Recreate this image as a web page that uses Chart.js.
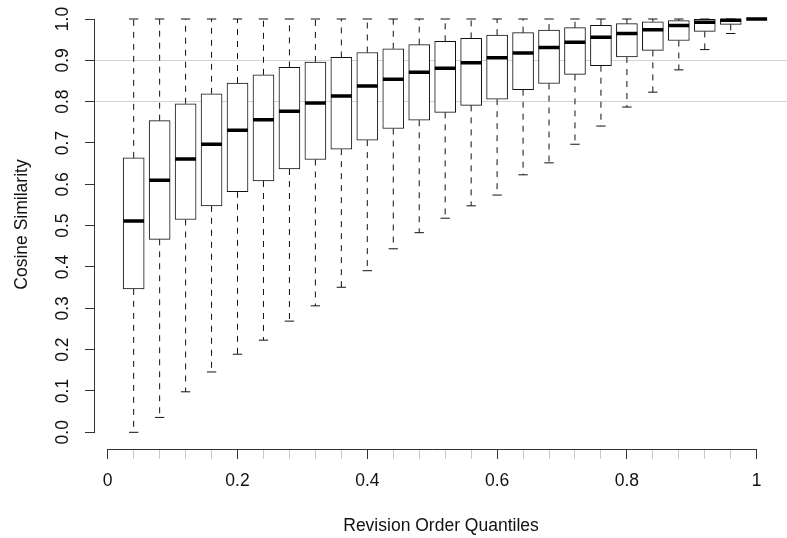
<!DOCTYPE html>
<html>
<head>
<meta charset="utf-8">
<script src="https://cdn.jsdelivr.net/npm/chart.js@4.4.1/dist/chart.umd.min.js"></script>
<style>
  html, body { margin: 0; padding: 0; background: #fff; }
  #wrap { position: relative; width: 787px; height: 538px; }
</style>
</head>
<body>
<div id="wrap"><canvas id="boxChart"></canvas></div>
<script>
// ── Data ──
const quantiles = [0.04, 0.08, 0.12, 0.16, 0.20, 0.24, 0.28, 0.32, 0.36, 0.40, 0.44, 0.48, 0.52,
                   0.56, 0.60, 0.64, 0.68, 0.72, 0.76, 0.80, 0.84, 0.88, 0.92, 0.96, 1.00];
const whiskerLow = [0.000, 0.036, 0.098, 0.146, 0.189, 0.223, 0.269, 0.306, 0.351, 0.391, 0.444, 0.483, 0.518,
                    0.548, 0.574, 0.623, 0.652, 0.697, 0.741, 0.787, 0.823, 0.877, 0.926, 0.965, 0.999];
const lowerQuartile = [0.347, 0.467, 0.515, 0.548, 0.582, 0.608, 0.637, 0.660, 0.685, 0.707, 0.735, 0.755, 0.774,
                       0.791, 0.806, 0.829, 0.844, 0.866, 0.887, 0.908, 0.924, 0.948, 0.970, 0.987, 0.999];
const medians = [0.511, 0.610, 0.661, 0.697, 0.731, 0.756, 0.777, 0.797, 0.814, 0.838, 0.854, 0.871, 0.881,
                 0.894, 0.906, 0.918, 0.931, 0.944, 0.956, 0.965, 0.974, 0.984, 0.992, 0.997, 1.000];
const upperQuartile = [0.664, 0.754, 0.795, 0.819, 0.845, 0.865, 0.883, 0.896, 0.907, 0.919, 0.928, 0.938, 0.946,
                       0.953, 0.961, 0.967, 0.973, 0.979, 0.985, 0.989, 0.993, 0.996, 0.999, 1.000, 1.000];
const whiskerHigh = [1, 1, 1, 1, 1, 1, 1, 1, 1, 1, 1, 1, 1, 1, 1, 1, 1, 1, 1, 1, 1, 1, 1, 1, 1];

const refLines = [0.8, 0.9];
const xMajorTicks = [0, 0.2, 0.4, 0.6, 0.8, 1];
const xTickLabels = ['0', '0.2', '0.4', '0.6', '0.8', '1'];
const yTicks = [0, 0.1, 0.2, 0.3, 0.4, 0.5, 0.6, 0.7, 0.8, 0.9, 1.0];
const yTickLabels = ['0.0', '0.1', '0.2', '0.3', '0.4', '0.5', '0.6', '0.7', '0.8', '0.9', '1.0'];

// ── Geometry (x units) ──
const BOX_HALF = 0.016;
const CAP_HALF = BOX_HALF * 0.45;

const near = (a, b) => Math.abs(a - b) < 1e-9;
const tickVal = c => (c && c.tick ? c.tick.value : NaN);

// turn [[p0, p1], ...] into one line dataset with gaps between segments
function segments(pairs) {
  const pts = [];
  pairs.forEach(([a, b]) => pts.push(a, b, { x: b.x, y: null }));
  return pts;
}

const whiskerPts = segments(quantiles.flatMap((x, i) => [
  [{ x, y: upperQuartile[i] }, { x, y: whiskerHigh[i] }],
  [{ x, y: lowerQuartile[i] }, { x, y: whiskerLow[i] }]
]));
const capPts = segments(quantiles.flatMap((x, i) => [
  [{ x: x - CAP_HALF, y: whiskerHigh[i] }, { x: x + CAP_HALF, y: whiskerHigh[i] }],
  [{ x: x - CAP_HALF, y: whiskerLow[i] }, { x: x + CAP_HALF, y: whiskerLow[i] }]
]));
const medianPts = segments(quantiles.map((x, i) => [
  { x: x - BOX_HALF, y: medians[i] }, { x: x + BOX_HALF, y: medians[i] }
]));

// axis lines only over the tick range, R style
const axisLines = {
  id: 'axisLines',
  afterDraw(chart) {
    const { ctx, scales: { x, y } } = chart;
    ctx.save();
    ctx.strokeStyle = '#333';
    ctx.lineWidth = 1;
    ctx.beginPath();
    const ax = Math.round(y.right) - 0.5;
    ctx.moveTo(ax, y.getPixelForValue(yTicks[0]));
    ctx.lineTo(ax, y.getPixelForValue(yTicks[yTicks.length - 1]));
    const ay = Math.round(x.top) + 0.5;
    ctx.moveTo(x.getPixelForValue(xMajorTicks[0]), ay);
    ctx.lineTo(x.getPixelForValue(xMajorTicks[xMajorTicks.length - 1]), ay);
    ctx.stroke();
    ctx.restore();
  }
};

Chart.defaults.font.family = '"Liberation Sans", Arial, sans-serif';
Chart.defaults.font.size = 17.5;
Chart.defaults.color = '#111';

new Chart(document.getElementById('boxChart'), {
  data: {
    datasets: [
      {
        type: 'line', order: 4, data: whiskerPts,
        borderColor: '#111', borderWidth: 1, borderDash: [6, 6],
        pointRadius: 0, spanGaps: false, fill: false
      },
      {
        type: 'line', order: 3, data: capPts,
        borderColor: '#111', borderWidth: 1,
        pointRadius: 0, spanGaps: false, fill: false
      },
      {
        type: 'bar', order: 2,
        data: quantiles.map((x, i) => ({ x, y: [lowerQuartile[i], upperQuartile[i]] })),
        backgroundColor: '#fff', borderColor: '#111', borderWidth: 1,
        borderSkipped: false, barThickness: 21
      },
      {
        type: 'line', order: 1, data: medianPts,
        borderColor: '#000', borderWidth: 3.5, borderCapStyle: 'butt',
        pointRadius: 0, spanGaps: false, fill: false
      }
    ]
  },
  options: {
    responsive: true, maintainAspectRatio: false,
    animation: false,
    layout: { padding: 0 },
    plugins: { legend: { display: false }, tooltip: { enabled: false } },
    scales: {
      x: {
        type: 'linear', min: -0.0196, max: 1.0467, offset: false,
        afterBuildTicks: s => { s.ticks = [0, ...quantiles].map(v => ({ value: v })); },
        afterFit: s => { s.height = 89; s.paddingLeft = 0; s.paddingRight = 0; },
        border: { display: false },
        grid: {
          offset: false, drawOnChartArea: false, drawTicks: true, tickLength: 10,
          tickColor: c => xMajorTicks.some(m => near(m, tickVal(c))) ? '#333' : '#c8c8c8'
        },
        ticks: {
          autoSkip: false, maxRotation: 0, padding: 12,
          callback: v => {
            const k = xMajorTicks.findIndex(m => near(m, v));
            return k >= 0 ? xTickLabels[k] : '';
          }
        },
        title: { display: true, text: 'Revision Order Quantiles', padding: { top: 0, bottom: 1.5 } }
      },
      y: {
        type: 'linear', min: -0.0404, max: 1.046,
        afterBuildTicks: s => { s.ticks = yTicks.map(v => ({ value: v })); },
        afterFit: s => { s.width = 95; s.paddingTop = 0; s.paddingBottom = 0; },
        border: { display: false },
        grid: {
          drawOnChartArea: true, drawTicks: true, tickLength: 10, tickColor: '#333',
          color: c => refLines.some(r => near(r, tickVal(c))) ? '#d3d3d3' : 'rgba(0,0,0,0)'
        },
        ticks: {
          autoSkip: false, minRotation: 90, maxRotation: 90, crossAlign: 'center', padding: 10,
          callback: (v, i) => yTickLabels[i]
        },
        title: { display: true, text: 'Cosine Similarity', padding: { top: 12, bottom: 0 } }
      }
    }
  },
  plugins: [axisLines]
});
</script>
</body>
</html>
